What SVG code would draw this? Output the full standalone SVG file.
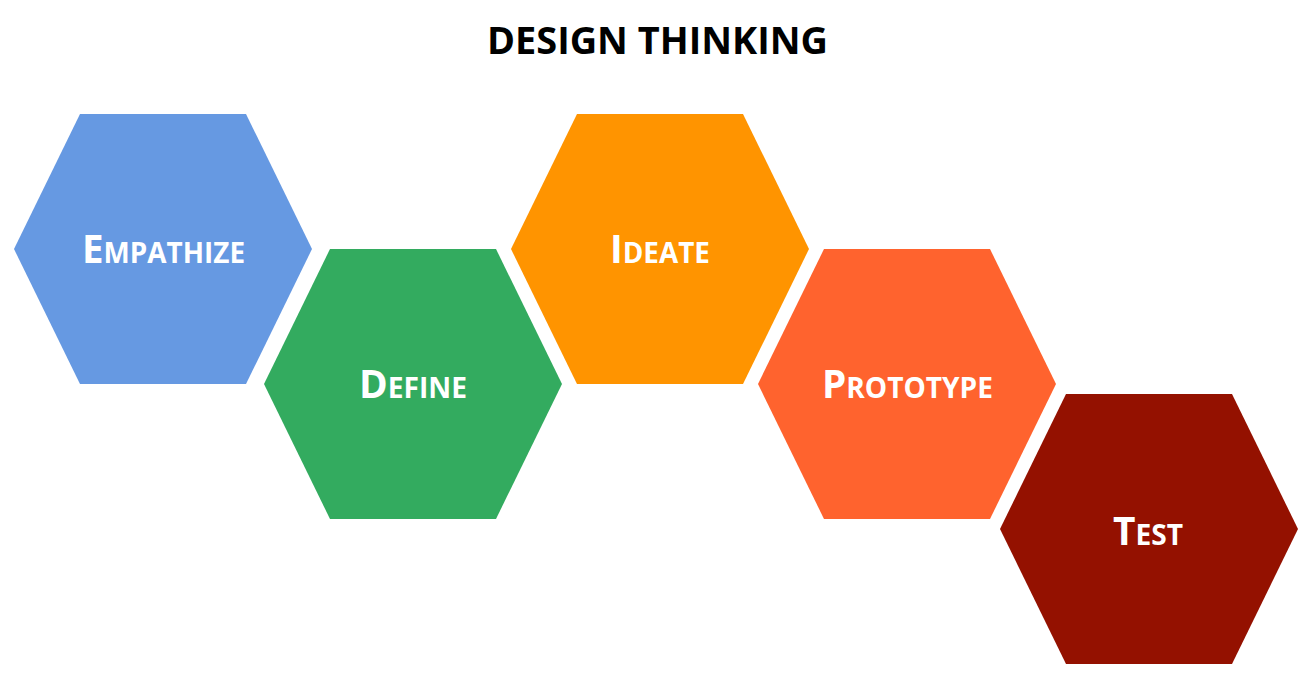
<svg xmlns="http://www.w3.org/2000/svg" width="1307" height="679" viewBox="0 0 1307 679">
<style>
.title{font-family:"Open Sans","Liberation Sans",sans-serif;font-weight:bold;font-size:37px;fill:#000}
.lbl{font-family:"Open Sans","Liberation Sans",sans-serif;font-weight:bold;fill:#fff;text-anchor:middle}
.big{font-size:40px}
.sm{font-size:29px}
</style>
<defs>
<polygon id="hex" points="-83,-135 83,-135 149,0 83,135 -83,135 -149,0"/>
</defs>
<rect width="1307" height="679" fill="#fff"/>
<text class="title" x="487" y="54" textLength="341" lengthAdjust="spacingAndGlyphs">DESIGN THINKING</text>
<g id="connectors"></g>
<g id="empathize">
<use href="#hex" x="163" y="249" fill="#6699E2"/>
<text class="lbl" x="163.5" y="263" textLength="163" lengthAdjust="spacingAndGlyphs"><tspan class="big">E</tspan><tspan class="sm">MPATHIZE</tspan></text>
</g>
<g id="define">
<use href="#hex" x="413" y="384" fill="#33AB5F"/>
<text class="lbl" x="413" y="398" textLength="108" lengthAdjust="spacingAndGlyphs"><tspan class="big">D</tspan><tspan class="sm">EFINE</tspan></text>
</g>
<g id="ideate">
<use href="#hex" x="660" y="249" fill="#FF9400"/>
<text class="lbl" x="660" y="263" textLength="100" lengthAdjust="spacingAndGlyphs"><tspan class="big">I</tspan><tspan class="sm">DEATE</tspan></text>
</g>
<g id="prototype">
<use href="#hex" x="907" y="384" fill="#FF632E"/>
<text class="lbl" x="907.5" y="398" textLength="171" lengthAdjust="spacingAndGlyphs"><tspan class="big">P</tspan><tspan class="sm">ROTOTYPE</tspan></text>
</g>
<g id="test">
<use href="#hex" x="1149" y="529" fill="#941100"/>
<text class="lbl" x="1148" y="545" textLength="70" lengthAdjust="spacingAndGlyphs"><tspan class="big">T</tspan><tspan class="sm">EST</tspan></text>
</g>
</svg>
